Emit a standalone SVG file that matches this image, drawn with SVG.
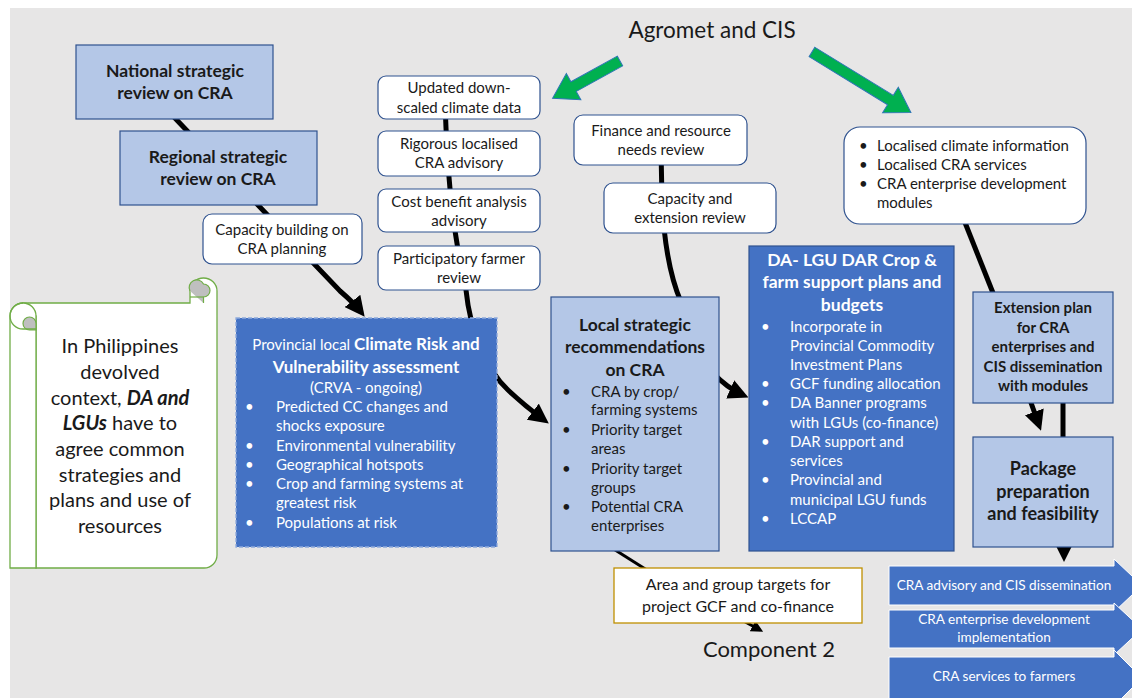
<svg xmlns="http://www.w3.org/2000/svg" width="1132" height="698" viewBox="0 0 1132 698">
  <defs>
    <style>
      text { font-family: Lato, "Liberation Sans", sans-serif; fill: #1a1a1a; }
      .c { text-anchor: middle; }
      .b { font-weight: bold; }
      .w { fill: #ffffff; }
      .t15 { font-size: 15px; }
      .t14 { font-size: 13.6px; }
      .lb { fill: #B4C7E7; stroke: #2F528F; stroke-width: 1.2; }
      .db { fill: #4472C4; stroke: #2F528F; stroke-width: 1.2; }
      .wb { fill: #ffffff; stroke: #2F528F; stroke-width: 1.2; }
      .con { fill: none; stroke: #000000; stroke-width: 5; }
      .band { fill: #4472C4; stroke: #ffffff; stroke-width: 1; }
      .green { fill: #00B050; stroke: #2E75B6; stroke-width: 1; }
    </style>
    <marker id="head" viewBox="0 0 10 10" refX="7" refY="5" markerWidth="4" markerHeight="4" orient="auto" markerUnits="strokeWidth">
      <path d="M0,0 L10,5 L0,10 z" fill="#000000"/>
    </marker>
  </defs>

  <!-- canvas -->
  <rect x="0" y="0" width="1132" height="698" fill="#ffffff"/>
  <rect x="10" y="8" width="1122" height="690" fill="#E7E6E6"/>

  <!-- connectors -->
  <g id="connectors">
    <path class="con" d="M172,115 L340,291 Q354,303 361,312" marker-end="url(#head)"/>
    <path class="con" d="M445,100 C447,170 452,230 466,290 C470,330 486,370 508,390 Q524,405 544,420" marker-end="url(#head)"/>
    <path class="con" d="M661,150 L662,200 Q665,265 681,302"/>
    <path class="con" d="M712,372 Q727,388 743,395" marker-end="url(#head)"/>
    <path class="con" d="M962,215 L995,298"/>
    <path class="con" d="M1030,400 L1039,425" marker-end="url(#head)"/>
    <path class="con" d="M1063,400 L1063,438"/>
    <path class="con" d="M1064,545 L1064,556" marker-end="url(#head)"/>
    <path class="con" d="M612,548 L650,572" style="stroke-width:3"/>
    <path class="con" d="M738,618 L760,630" style="stroke-width:3" marker-end="url(#head)"/>
    <!-- Agromet feeds -->
    <polygon class="green" transform="translate(620,61) rotate(151.1)" points="0,-5.5 53,-5.5 53,-15 77,0 53,15 53,5.5 0,5.5"/>
    <polygon class="green" transform="translate(812,52) rotate(31.5)" points="0,-5.5 92,-5.5 92,-15 116,0 92,15 92,5.5 0,5.5"/>
  </g>

  <!-- free labels -->
  <text x="712" y="38" class="c" style="font-size:22.5px">Agromet and CIS</text>
  <text x="769" y="657" class="c" style="font-size:22px">Component 2</text>

  <g id="national">
    <rect class="lb" x="76" y="45" width="197" height="74"/>
    <text class="c b" x="175" y="77" style="font-size:17.5px">National strategic</text>
    <text class="c b" x="175" y="99" style="font-size:17.5px">review on CRA</text>
  </g>

  <g id="regional">
    <rect class="lb" x="120" y="131" width="197" height="74"/>
    <text class="c b" x="218" y="163" style="font-size:17.5px">Regional strategic</text>
    <text class="c b" x="218" y="185" style="font-size:17.5px">review on CRA</text>
  </g>

  <g id="capacity-building">
    <rect class="wb" x="203" y="214" width="159" height="50" rx="9"/>
    <text class="c t15" x="282" y="235">Capacity building on</text>
    <text class="c t15" x="282" y="254">CRA planning</text>
  </g>

  <g id="scroll">
    <path d="M23,303 L190,303 L190,291 A13.5,13 0 0 1 217,291 L217,555 A13,13 0 0 1 204,568 L36,568 L36,316 Z" fill="#ffffff" stroke="#70AD47" stroke-width="1.3"/>
    <path d="M10,316 A13,13 0 0 1 36,316 L36,568 L10,568 Z" fill="#ffffff" stroke="#70AD47" stroke-width="1.3"/>
    <path d="M36,330 L29.5,330 A6.5,6.5 0 0 1 29.5,317 A6.5,6.5 0 0 1 36,323.5 Z" fill="#BFBFBF" stroke="#70AD47" stroke-width="1.2"/>
    <path d="M23,303 A13,13 0 0 0 23,329 L36,329" fill="none" stroke="#70AD47" stroke-width="1.3"/>
    <path d="M190,291 A7,7 0 0 1 203.5,284 A6.5,6.5 0 0 1 203.5,297 L203.5,303" fill="#BFBFBF" stroke="#70AD47" stroke-width="1.2"/>
    <path d="M203.5,297 L190,297" fill="none" stroke="#70AD47" stroke-width="1.2"/>
    <text class="c" x="120" y="353" style="font-size:20px">In Philippines</text>
    <text class="c" x="120" y="379" style="font-size:20px">devolved</text>
    <text class="c" x="120" y="405" style="font-size:20px">context, <tspan font-weight="bold" font-style="italic">DA and</tspan></text>
    <text class="c" x="120" y="430" style="font-size:20px"><tspan font-weight="bold" font-style="italic">LGUs</tspan> have to</text>
    <text class="c" x="120" y="456" style="font-size:20px">agree common</text>
    <text class="c" x="120" y="482" style="font-size:20px">strategies and</text>
    <text class="c" x="120" y="507" style="font-size:20px">plans and use of</text>
    <text class="c" x="120" y="533" style="font-size:20px">resources</text>
  </g>

  <g id="crva">
    <rect x="236" y="318" width="261" height="229" fill="#4472C4" stroke="#8FAADC" stroke-width="1.3" stroke-dasharray="4,2"/>
    <text class="c w" x="366" y="350"><tspan style="font-size:15px">Provincial local </tspan><tspan class="b" style="font-size:17px">Climate Risk and</tspan></text>
    <text class="c w b" x="366" y="373" style="font-size:17px">Vulnerability assessment</text>
    <text class="c w t15" x="366" y="393">(CRVA - ongoing)</text>
    <g class="t15">
      <text class="w" x="245" y="412">•</text><text class="w" x="276" y="412">Predicted CC changes and</text>
      <text class="w" x="276" y="431">shocks exposure</text>
      <text class="w" x="245" y="451">•</text><text class="w" x="276" y="451">Environmental vulnerability</text>
      <text class="w" x="245" y="470">•</text><text class="w" x="276" y="470">Geographical hotspots</text>
      <text class="w" x="245" y="489">•</text><text class="w" x="276" y="489">Crop and farming systems at</text>
      <text class="w" x="276" y="508">greatest risk</text>
      <text class="w" x="245" y="528">•</text><text class="w" x="276" y="528">Populations at risk</text>
    </g>
  </g>

  <g id="updated-data">
    <rect class="wb" x="378" y="76" width="162" height="43" rx="8"/>
    <text class="c t15" x="459" y="93">Updated down-</text>
    <text class="c t15" x="459" y="113">scaled climate data</text>
  </g>
  <g id="rigorous-advisory">
    <rect class="wb" x="378" y="131" width="162" height="45" rx="8"/>
    <text class="c t15" x="459" y="149">Rigorous localised</text>
    <text class="c t15" x="459" y="168">CRA advisory</text>
  </g>
  <g id="cost-benefit">
    <rect class="wb" x="378" y="189" width="162" height="43" rx="8"/>
    <text class="c t15" x="459" y="207">Cost benefit analysis</text>
    <text class="c t15" x="459" y="226">advisory</text>
  </g>
  <g id="participatory">
    <rect class="wb" x="378" y="246" width="162" height="44" rx="8"/>
    <text class="c t15" x="459" y="264">Participatory farmer</text>
    <text class="c t15" x="459" y="283">review</text>
  </g>

  <g id="finance-review">
    <rect class="wb" x="574" y="115" width="173" height="50" rx="9"/>
    <text class="c t15" x="661" y="136">Finance and resource</text>
    <text class="c t15" x="661" y="155">needs review</text>
  </g>
  <g id="capacity-extension">
    <rect class="wb" x="604" y="183" width="172" height="50" rx="9"/>
    <text class="c t15" x="690" y="204">Capacity and</text>
    <text class="c t15" x="690" y="223">extension review</text>
  </g>

  <g id="local-strategic">
    <rect class="lb" x="551" y="297" width="168" height="254"/>
    <text class="c b" x="635" y="331" style="font-size:17.5px">Local strategic</text>
    <text class="c b" x="635" y="353" style="font-size:17.5px">recommendations</text>
    <text class="c b" x="635" y="376" style="font-size:17.5px">on CRA</text>
    <g class="t15">
      <text x="562" y="397">•</text><text x="591" y="397">CRA by crop/</text>
      <text x="591" y="415">farming systems</text>
      <text x="562" y="435">•</text><text x="591" y="435">Priority target</text>
      <text x="591" y="454">areas</text>
      <text x="562" y="474">•</text><text x="591" y="474">Priority target</text>
      <text x="591" y="493">groups</text>
      <text x="562" y="512">•</text><text x="591" y="512">Potential CRA</text>
      <text x="591" y="531">enterprises</text>
    </g>
  </g>

  <g id="plans-budgets">
    <rect class="db" x="749" y="246" width="205" height="305"/>
    <text class="c w b" x="852" y="266" style="font-size:17.5px">DA- LGU DAR Crop &amp;</text>
    <text class="c w b" x="852" y="288" style="font-size:17.5px">farm support plans and</text>
    <text class="c w b" x="852" y="311" style="font-size:17.5px">budgets</text>
    <g class="t15">
      <text class="w" x="761" y="332">•</text><text class="w" x="790" y="332">Incorporate in</text>
      <text class="w" x="790" y="351">Provincial Commodity</text>
      <text class="w" x="790" y="370">Investment Plans</text>
      <text class="w" x="761" y="389">•</text><text class="w" x="790" y="389">GCF funding allocation</text>
      <text class="w" x="761" y="408">•</text><text class="w" x="790" y="408">DA Banner programs</text>
      <text class="w" x="790" y="428">with LGUs (co-finance)</text>
      <text class="w" x="761" y="447">•</text><text class="w" x="790" y="447">DAR support and</text>
      <text class="w" x="790" y="466">services</text>
      <text class="w" x="761" y="485">•</text><text class="w" x="790" y="485">Provincial and</text>
      <text class="w" x="790" y="505">municipal LGU funds</text>
      <text class="w" x="761" y="524">•</text><text class="w" x="790" y="524">LCCAP</text>
    </g>
  </g>

  <g id="localised-services">
    <rect class="wb" x="844" y="127" width="242" height="97" rx="16"/>
    <g class="t15">
      <text x="859" y="151">•</text><text x="877" y="151">Localised climate information</text>
      <text x="859" y="170">•</text><text x="877" y="170">Localised CRA services</text>
      <text x="859" y="189">•</text><text x="877" y="189">CRA enterprise development</text>
      <text x="877" y="208">modules</text>
    </g>
  </g>

  <g id="extension-plan">
    <rect class="lb" x="973" y="292" width="140" height="111"/>
    <text class="c b t15" x="1043" y="313">Extension plan</text>
    <text class="c b t15" x="1043" y="333">for CRA</text>
    <text class="c b t15" x="1043" y="352">enterprises and</text>
    <text class="c b t15" x="1043" y="372">CIS dissemination</text>
    <text class="c b t15" x="1043" y="391">with modules</text>
  </g>

  <g id="package">
    <rect class="lb" x="973" y="437" width="140" height="110"/>
    <text class="c b" x="1043" y="475" style="font-size:18px">Package</text>
    <text class="c b" x="1043" y="498" style="font-size:18px">preparation</text>
    <text class="c b" x="1043" y="520" style="font-size:18px">and feasibility</text>
  </g>

  <g id="targets">
    <rect x="614" y="568" width="248" height="55" fill="#ffffff" stroke="#BF9000" stroke-width="1.3"/>
    <text class="c" x="738" y="590" style="font-size:16px">Area and group targets for</text>
    <text class="c" x="738" y="612" style="font-size:16px">project GCF and co-finance</text>
  </g>

  <g id="advisory-dissemination">
    <polygon class="band" points="889,566 1114,566 1114,559 1142,585.5 1114,612 1114,605 889,605"/>
    <text class="c w t14" x="1004" y="590">CRA advisory and CIS dissemination</text>
  </g>
  <g id="enterprise-implementation">
    <polygon class="band" points="889,610 1114,610 1114,603 1142,629 1114,655 1114,648 889,648"/>
    <text class="c w t14" x="1004" y="624">CRA enterprise development</text>
    <text class="c w t14" x="1004" y="642">implementation</text>
  </g>
  <g id="farmer-services">
    <polygon class="band" points="889,657 1114,657 1114,650 1142,678 1114,706 1114,699 889,699"/>
    <text class="c w t14" x="1004" y="681">CRA services to farmers</text>
  </g>
</svg>
